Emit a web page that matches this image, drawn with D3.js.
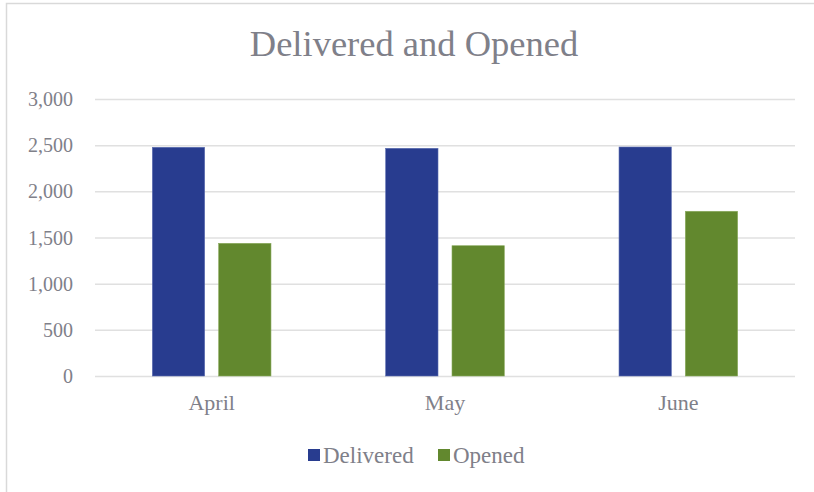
<!DOCTYPE html>
<html><head><meta charset="utf-8">
<script src="https://cdn.jsdelivr.net/npm/d3@7"></script>
<style>body{margin:0;background:#fff}svg{display:block}</style>
</head><body>
<script>
const categories = ["April", "May", "June"];
const seriesNames = ["Delivered", "Opened"];
const delivered = [2477, 2466, 2480];
const opened = [1437, 1411, 1784];
const yTicks = [0, 500, 1000, 1500, 2000, 2500, 3000];
const title = "Delivered and Opened";

(function () {
const W = 814, H = 492;
const font = "Liberation Serif, Times New Roman, DejaVu Serif, serif";
const textColor = "#7f8089";
const colors = ["#283c8f", "#62882e"];
const seriesVals = [delivered, opened];

const svg = d3.select("body").append("svg").attr("width", W).attr("height", H);
svg.append("rect").attr("width", W).attr("height", H).attr("fill", "#fff");
svg.append("path").attr("d", "M6.5,492 V3.5 H814").attr("fill", "none")
  .attr("stroke", "#d9d9d9").attr("stroke-width", 1.5);

const pL = 95, pR = 795, pT = 99, pB = 376;
const y = d3.scaleLinear().domain([0, 3000]).range([pB, pT]);
const x0 = d3.scaleBand().domain(categories).range([pL, pR]).padding(0);
const x1 = d3.scaleBand().domain(seriesNames).range([0, x0.bandwidth()])
  .paddingInner(0.211).paddingOuter(0.865);

const yAxis = d3.axisLeft(y).tickValues(yTicks).tickSize(-(pR - pL))
  .tickFormat(d3.format(","));
const gy = svg.append("g").attr("transform", `translate(${pL},0)`).call(yAxis);
gy.select(".domain").remove();
gy.selectAll(".tick line").attr("stroke", "#e0e0e0").attr("stroke-width", 1.5);
gy.selectAll(".tick text").attr("x", -22).attr("fill", textColor)
  .style("font-family", font).style("font-size", "20px").attr("dy", "0.33em");

categories.forEach((c, i) => {
  seriesNames.forEach((s, j) => {
    svg.append("rect")
      .attr("x", x0(c) + x1(s))
      .attr("y", y(seriesVals[j][i]))
      .attr("width", x1.bandwidth())
      .attr("height", y(0) - y(seriesVals[j][i]))
      .attr("fill", colors[j])
      .attr("stroke", j === 0 ? "#5a6cb0" : "#8aaa5e").attr("stroke-width", 0.6);
  });
});

const xAxis = d3.axisBottom(x0).tickSize(0).tickPadding(0);
const gx = svg.append("g").attr("transform", `translate(0,${pB})`).call(xAxis);
gx.select(".domain").remove();
gx.selectAll(".tick text").attr("y", 0).attr("dy", "34px").attr("fill", textColor)
  .style("font-family", font).style("font-size", "22px");

svg.append("text").attr("x", 414).attr("y", 56).attr("text-anchor", "middle")
  .attr("fill", textColor).style("font-family", font).style("font-size", "36.5px")
  .text(title);

const legX = [308, 438];
seriesNames.forEach((s, j) => {
  svg.append("rect").attr("x", legX[j]).attr("y", 449).attr("width", 12).attr("height", 12)
    .attr("fill", colors[j]);
  svg.append("text").attr("x", legX[j] + 15).attr("y", 463).attr("fill", textColor)
    .style("font-family", font).style("font-size", "23px").text(s);
});
})();
</script>
</body></html>
